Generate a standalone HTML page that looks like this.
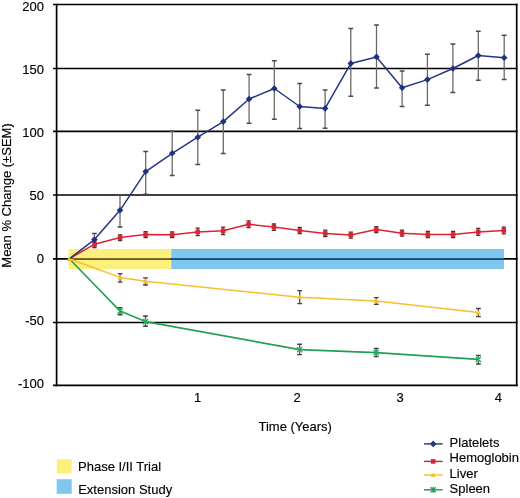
<!DOCTYPE html>
<html><head><meta charset="utf-8"><style>
html,body{margin:0;padding:0;background:#fff;}
svg{display:block;will-change:transform;}
text{font-family:"Liberation Sans",sans-serif;font-size:13px;fill:#000;stroke:#000;stroke-width:0.15px;}
</style></head><body>
<svg width="520" height="498" viewBox="0 0 520 498">
<rect x="68.5" y="249" width="102.3" height="20" fill="#fdef7c"/>
<rect x="171.2" y="249" width="332.8" height="20" fill="#7fc7ee"/>
<line x1="53" y1="4.5" x2="517.6" y2="4.5" stroke="#000" stroke-width="1.6"/>
<line x1="53" y1="68.5" x2="517.6" y2="68.5" stroke="#000" stroke-width="1.6"/>
<line x1="53" y1="131.4" x2="517.6" y2="131.4" stroke="#000" stroke-width="1.6"/>
<line x1="53" y1="195.0" x2="517.6" y2="195.0" stroke="#000" stroke-width="1.6"/>
<line x1="53" y1="258.9" x2="517.6" y2="258.9" stroke="#000" stroke-width="1.6"/>
<line x1="53" y1="322.5" x2="517.6" y2="322.5" stroke="#000" stroke-width="1.6"/>
<line x1="53" y1="385.4" x2="517.6" y2="385.4" stroke="#000" stroke-width="1.6"/>
<line x1="68.5" y1="258.9" x2="170.8" y2="258.9" stroke="#7d6c2a" stroke-width="1.6"/>
<line x1="171.2" y1="258.9" x2="504" y2="258.9" stroke="#1f5a80" stroke-width="1.6"/>
<line x1="56.6" y1="3.7" x2="56.6" y2="386.2" stroke="#000" stroke-width="1.7"/>
<line x1="516.7" y1="3.7" x2="516.7" y2="386.2" stroke="#000" stroke-width="1.7"/>
<polyline points="69.3,258.8 120.1,311.1 145.5,321.6 299.6,349.6 376.2,352.6 478.4,359.4" fill="none" stroke="#22a055" stroke-width="1.6" stroke-linejoin="round"/>
<polyline points="69.3,258.8 120.1,277.4 145.5,281.2 299.7,297.2 376.3,301.1 478.4,312.6" fill="none" stroke="#f2c030" stroke-width="1.5" stroke-linejoin="round"/>
<polyline points="69.3,258.8 94.5,244.2 120.1,237.6 145.6,234.6 172.2,234.8 197.7,231.9 223.1,230.8 248.6,224.3 273.9,227.1 299.7,230.5 325.3,233.4 350.8,235.0 376.3,229.6 402.0,233.2 427.8,234.6 453.1,234.5 478.2,231.9 503.8,230.4" fill="none" stroke="#dc2335" stroke-width="1.5" stroke-linejoin="round"/>
<polyline points="69.3,258.8 94.4,239.6 120.0,210.3 145.7,171.6 172.2,153.3 197.8,137.2 223.3,121.6 249.1,99.0 274.3,88.5 299.7,106.5 325.1,108.4 350.8,63.4 376.5,56.9 402.1,87.7 427.4,79.6 452.9,68.5 478.3,55.5 504.2,57.8" fill="none" stroke="#223680" stroke-width="1.5" stroke-linejoin="round"/>
<path d="M94.4 233.5V245.7" stroke="#6a6a6a" stroke-width="1.3" fill="none"/>
<path d="M92.0 233.5H96.8M92.0 245.7H96.8" stroke="#4a4a4a" stroke-width="1.5" fill="none"/>
<path d="M120.0 195.0V227.0" stroke="#6a6a6a" stroke-width="1.3" fill="none"/>
<path d="M117.6 195.0H122.4M117.6 227.0H122.4" stroke="#4a4a4a" stroke-width="1.5" fill="none"/>
<path d="M145.7 151.5V194.2" stroke="#6a6a6a" stroke-width="1.3" fill="none"/>
<path d="M143.3 151.5H148.1M143.3 194.2H148.1" stroke="#4a4a4a" stroke-width="1.5" fill="none"/>
<path d="M172.2 131.3V175.5" stroke="#6a6a6a" stroke-width="1.3" fill="none"/>
<path d="M169.8 131.3H174.6M169.8 175.5H174.6" stroke="#4a4a4a" stroke-width="1.5" fill="none"/>
<path d="M197.8 110.3V164.6" stroke="#6a6a6a" stroke-width="1.3" fill="none"/>
<path d="M195.4 110.3H200.2M195.4 164.6H200.2" stroke="#4a4a4a" stroke-width="1.5" fill="none"/>
<path d="M223.3 90.0V153.6" stroke="#6a6a6a" stroke-width="1.3" fill="none"/>
<path d="M220.9 90.0H225.7M220.9 153.6H225.7" stroke="#4a4a4a" stroke-width="1.5" fill="none"/>
<path d="M249.1 74.5V123.3" stroke="#6a6a6a" stroke-width="1.3" fill="none"/>
<path d="M246.7 74.5H251.5M246.7 123.3H251.5" stroke="#4a4a4a" stroke-width="1.5" fill="none"/>
<path d="M274.3 60.7V119.3" stroke="#6a6a6a" stroke-width="1.3" fill="none"/>
<path d="M271.9 60.7H276.7M271.9 119.3H276.7" stroke="#4a4a4a" stroke-width="1.5" fill="none"/>
<path d="M299.7 83.6V128.6" stroke="#6a6a6a" stroke-width="1.3" fill="none"/>
<path d="M297.3 83.6H302.1M297.3 128.6H302.1" stroke="#4a4a4a" stroke-width="1.5" fill="none"/>
<path d="M325.1 90.0V128.2" stroke="#6a6a6a" stroke-width="1.3" fill="none"/>
<path d="M322.7 90.0H327.5M322.7 128.2H327.5" stroke="#4a4a4a" stroke-width="1.5" fill="none"/>
<path d="M350.8 28.6V96.3" stroke="#6a6a6a" stroke-width="1.3" fill="none"/>
<path d="M348.4 28.6H353.2M348.4 96.3H353.2" stroke="#4a4a4a" stroke-width="1.5" fill="none"/>
<path d="M376.5 25.0V88.0" stroke="#6a6a6a" stroke-width="1.3" fill="none"/>
<path d="M374.1 25.0H378.9M374.1 88.0H378.9" stroke="#4a4a4a" stroke-width="1.5" fill="none"/>
<path d="M402.1 71.0V106.4" stroke="#6a6a6a" stroke-width="1.3" fill="none"/>
<path d="M399.7 71.0H404.5M399.7 106.4H404.5" stroke="#4a4a4a" stroke-width="1.5" fill="none"/>
<path d="M427.4 54.3V105.3" stroke="#6a6a6a" stroke-width="1.3" fill="none"/>
<path d="M425.0 54.3H429.8M425.0 105.3H429.8" stroke="#4a4a4a" stroke-width="1.5" fill="none"/>
<path d="M452.9 43.9V92.5" stroke="#6a6a6a" stroke-width="1.3" fill="none"/>
<path d="M450.5 43.9H455.3M450.5 92.5H455.3" stroke="#4a4a4a" stroke-width="1.5" fill="none"/>
<path d="M478.3 31.3V80.2" stroke="#6a6a6a" stroke-width="1.3" fill="none"/>
<path d="M475.9 31.3H480.7M475.9 80.2H480.7" stroke="#4a4a4a" stroke-width="1.5" fill="none"/>
<path d="M504.2 35.3V79.6" stroke="#6a6a6a" stroke-width="1.3" fill="none"/>
<path d="M501.8 35.3H506.6M501.8 79.6H506.6" stroke="#4a4a4a" stroke-width="1.5" fill="none"/>
<path d="M94.5 241.0V247.6" stroke="#5a2a2a" stroke-width="1.3" fill="none"/>
<path d="M92.4 241.0H96.6M92.4 247.6H96.6" stroke="#5a2a2a" stroke-width="1.3" fill="none"/>
<path d="M120.1 234.8V240.6" stroke="#5a2a2a" stroke-width="1.3" fill="none"/>
<path d="M118.0 234.8H122.2M118.0 240.6H122.2" stroke="#5a2a2a" stroke-width="1.3" fill="none"/>
<path d="M145.6 231.6V237.7" stroke="#5a2a2a" stroke-width="1.3" fill="none"/>
<path d="M143.5 231.6H147.7M143.5 237.7H147.7" stroke="#5a2a2a" stroke-width="1.3" fill="none"/>
<path d="M172.2 231.9V237.7" stroke="#5a2a2a" stroke-width="1.3" fill="none"/>
<path d="M170.1 231.9H174.3M170.1 237.7H174.3" stroke="#5a2a2a" stroke-width="1.3" fill="none"/>
<path d="M197.7 228.2V235.7" stroke="#5a2a2a" stroke-width="1.3" fill="none"/>
<path d="M195.6 228.2H199.8M195.6 235.7H199.8" stroke="#5a2a2a" stroke-width="1.3" fill="none"/>
<path d="M223.1 227.2V234.5" stroke="#5a2a2a" stroke-width="1.3" fill="none"/>
<path d="M221.0 227.2H225.2M221.0 234.5H225.2" stroke="#5a2a2a" stroke-width="1.3" fill="none"/>
<path d="M248.6 220.9V227.6" stroke="#5a2a2a" stroke-width="1.3" fill="none"/>
<path d="M246.5 220.9H250.7M246.5 227.6H250.7" stroke="#5a2a2a" stroke-width="1.3" fill="none"/>
<path d="M273.9 224.0V230.4" stroke="#5a2a2a" stroke-width="1.3" fill="none"/>
<path d="M271.8 224.0H276.0M271.8 230.4H276.0" stroke="#5a2a2a" stroke-width="1.3" fill="none"/>
<path d="M299.7 227.4V233.7" stroke="#5a2a2a" stroke-width="1.3" fill="none"/>
<path d="M297.6 227.4H301.8M297.6 233.7H301.8" stroke="#5a2a2a" stroke-width="1.3" fill="none"/>
<path d="M325.3 230.2V236.5" stroke="#5a2a2a" stroke-width="1.3" fill="none"/>
<path d="M323.2 230.2H327.4M323.2 236.5H327.4" stroke="#5a2a2a" stroke-width="1.3" fill="none"/>
<path d="M350.8 232.2V238.2" stroke="#5a2a2a" stroke-width="1.3" fill="none"/>
<path d="M348.7 232.2H352.9M348.7 238.2H352.9" stroke="#5a2a2a" stroke-width="1.3" fill="none"/>
<path d="M376.3 226.6V232.7" stroke="#5a2a2a" stroke-width="1.3" fill="none"/>
<path d="M374.2 226.6H378.4M374.2 232.7H378.4" stroke="#5a2a2a" stroke-width="1.3" fill="none"/>
<path d="M402.0 230.1V236.2" stroke="#5a2a2a" stroke-width="1.3" fill="none"/>
<path d="M399.9 230.1H404.1M399.9 236.2H404.1" stroke="#5a2a2a" stroke-width="1.3" fill="none"/>
<path d="M427.8 231.5V237.7" stroke="#5a2a2a" stroke-width="1.3" fill="none"/>
<path d="M425.7 231.5H429.9M425.7 237.7H429.9" stroke="#5a2a2a" stroke-width="1.3" fill="none"/>
<path d="M453.1 231.4V237.5" stroke="#5a2a2a" stroke-width="1.3" fill="none"/>
<path d="M451.0 231.4H455.2M451.0 237.5H455.2" stroke="#5a2a2a" stroke-width="1.3" fill="none"/>
<path d="M478.2 228.4V235.4" stroke="#5a2a2a" stroke-width="1.3" fill="none"/>
<path d="M476.1 228.4H480.3M476.1 235.4H480.3" stroke="#5a2a2a" stroke-width="1.3" fill="none"/>
<path d="M503.8 227.1V233.9" stroke="#5a2a2a" stroke-width="1.3" fill="none"/>
<path d="M501.7 227.1H505.9M501.7 233.9H505.9" stroke="#5a2a2a" stroke-width="1.3" fill="none"/>
<path d="M120.1 273.6V282.1" stroke="#45404a" stroke-width="1.3" fill="none"/>
<path d="M117.7 273.6H122.5M117.7 282.1H122.5" stroke="#45404a" stroke-width="1.4" fill="none"/>
<path d="M145.5 277.9V285.0" stroke="#45404a" stroke-width="1.3" fill="none"/>
<path d="M143.1 277.9H147.9M143.1 285.0H147.9" stroke="#45404a" stroke-width="1.4" fill="none"/>
<path d="M299.7 290.6V303.6" stroke="#45404a" stroke-width="1.3" fill="none"/>
<path d="M297.3 290.6H302.1M297.3 303.6H302.1" stroke="#45404a" stroke-width="1.4" fill="none"/>
<path d="M376.3 297.6V304.4" stroke="#45404a" stroke-width="1.3" fill="none"/>
<path d="M373.9 297.6H378.7M373.9 304.4H378.7" stroke="#45404a" stroke-width="1.4" fill="none"/>
<path d="M478.4 308.5V316.6" stroke="#45404a" stroke-width="1.3" fill="none"/>
<path d="M476.0 308.5H480.8M476.0 316.6H480.8" stroke="#45404a" stroke-width="1.4" fill="none"/>
<path d="M120.1 307.6V314.8" stroke="#45404a" stroke-width="1.3" fill="none"/>
<path d="M117.7 307.6H122.5M117.7 314.8H122.5" stroke="#45404a" stroke-width="1.4" fill="none"/>
<path d="M145.5 316.0V326.2" stroke="#45404a" stroke-width="1.3" fill="none"/>
<path d="M143.1 316.0H147.9M143.1 326.2H147.9" stroke="#45404a" stroke-width="1.4" fill="none"/>
<path d="M299.6 344.3V354.6" stroke="#45404a" stroke-width="1.3" fill="none"/>
<path d="M297.2 344.3H302.0M297.2 354.6H302.0" stroke="#45404a" stroke-width="1.4" fill="none"/>
<path d="M376.2 348.5V356.6" stroke="#45404a" stroke-width="1.3" fill="none"/>
<path d="M373.8 348.5H378.6M373.8 356.6H378.6" stroke="#45404a" stroke-width="1.4" fill="none"/>
<path d="M478.4 355.4V364.0" stroke="#45404a" stroke-width="1.3" fill="none"/>
<path d="M476.0 355.4H480.8M476.0 364.0H480.8" stroke="#45404a" stroke-width="1.4" fill="none"/>
<path d="M117.5 308.5L122.7 313.7M122.7 308.5L117.5 313.7M120.1 308.1V314.1" stroke="#2aae5c" stroke-width="1.3"/>
<path d="M142.9 319.0L148.1 324.2M148.1 319.0L142.9 324.2M145.5 318.6V324.6" stroke="#2aae5c" stroke-width="1.3"/>
<path d="M297.0 347.0L302.2 352.2M302.2 347.0L297.0 352.2M299.6 346.6V352.6" stroke="#2aae5c" stroke-width="1.3"/>
<path d="M373.6 350.0L378.8 355.2M378.8 350.0L373.6 355.2M376.2 349.6V355.6" stroke="#2aae5c" stroke-width="1.3"/>
<path d="M475.8 356.8L481.0 362.0M481.0 356.8L475.8 362.0M478.4 356.4V362.4" stroke="#2aae5c" stroke-width="1.3"/>
<path d="M69.3 256.2L71.9 260.9L66.7 260.9Z" fill="#f2c030"/>
<path d="M120.1 274.8L122.7 279.5L117.5 279.5Z" fill="#f2c030"/>
<path d="M145.5 278.6L148.1 283.3L142.9 283.3Z" fill="#f2c030"/>
<path d="M299.7 294.6L302.3 299.3L297.1 299.3Z" fill="#f2c030"/>
<path d="M376.3 298.5L378.9 303.2L373.7 303.2Z" fill="#f2c030"/>
<path d="M478.4 310.0L481.0 314.7L475.8 314.7Z" fill="#f2c030"/>
<rect x="92.2" y="241.9" width="4.6" height="4.6" fill="#dc2335"/>
<rect x="117.8" y="235.3" width="4.6" height="4.6" fill="#dc2335"/>
<rect x="143.3" y="232.3" width="4.6" height="4.6" fill="#dc2335"/>
<rect x="169.9" y="232.5" width="4.6" height="4.6" fill="#dc2335"/>
<rect x="195.4" y="229.6" width="4.6" height="4.6" fill="#dc2335"/>
<rect x="220.8" y="228.5" width="4.6" height="4.6" fill="#dc2335"/>
<rect x="246.3" y="222.0" width="4.6" height="4.6" fill="#dc2335"/>
<rect x="271.6" y="224.8" width="4.6" height="4.6" fill="#dc2335"/>
<rect x="297.4" y="228.2" width="4.6" height="4.6" fill="#dc2335"/>
<rect x="323.0" y="231.1" width="4.6" height="4.6" fill="#dc2335"/>
<rect x="348.5" y="232.7" width="4.6" height="4.6" fill="#dc2335"/>
<rect x="374.0" y="227.3" width="4.6" height="4.6" fill="#dc2335"/>
<rect x="399.7" y="230.9" width="4.6" height="4.6" fill="#dc2335"/>
<rect x="425.5" y="232.3" width="4.6" height="4.6" fill="#dc2335"/>
<rect x="450.8" y="232.2" width="4.6" height="4.6" fill="#dc2335"/>
<rect x="475.9" y="229.6" width="4.6" height="4.6" fill="#dc2335"/>
<rect x="501.5" y="228.1" width="4.6" height="4.6" fill="#dc2335"/>
<path d="M94.4 236.3L97.7 239.6L94.4 242.9L91.1 239.6Z" fill="#1f3280"/>
<path d="M120.0 207.0L123.3 210.3L120.0 213.6L116.7 210.3Z" fill="#1f3280"/>
<path d="M145.7 168.3L149.0 171.6L145.7 174.9L142.4 171.6Z" fill="#1f3280"/>
<path d="M172.2 150.0L175.5 153.3L172.2 156.6L168.9 153.3Z" fill="#1f3280"/>
<path d="M197.8 133.9L201.1 137.2L197.8 140.5L194.5 137.2Z" fill="#1f3280"/>
<path d="M223.3 118.3L226.6 121.6L223.3 124.9L220.0 121.6Z" fill="#1f3280"/>
<path d="M249.1 95.7L252.4 99.0L249.1 102.3L245.8 99.0Z" fill="#1f3280"/>
<path d="M274.3 85.2L277.6 88.5L274.3 91.8L271.0 88.5Z" fill="#1f3280"/>
<path d="M299.7 103.2L303.0 106.5L299.7 109.8L296.4 106.5Z" fill="#1f3280"/>
<path d="M325.1 105.1L328.4 108.4L325.1 111.7L321.8 108.4Z" fill="#1f3280"/>
<path d="M350.8 60.1L354.1 63.4L350.8 66.7L347.5 63.4Z" fill="#1f3280"/>
<path d="M376.5 53.6L379.8 56.9L376.5 60.2L373.2 56.9Z" fill="#1f3280"/>
<path d="M402.1 84.4L405.4 87.7L402.1 91.0L398.8 87.7Z" fill="#1f3280"/>
<path d="M427.4 76.3L430.7 79.6L427.4 82.9L424.1 79.6Z" fill="#1f3280"/>
<path d="M452.9 65.2L456.2 68.5L452.9 71.8L449.6 68.5Z" fill="#1f3280"/>
<path d="M478.3 52.2L481.6 55.5L478.3 58.8L475.0 55.5Z" fill="#1f3280"/>
<path d="M504.2 54.5L507.5 57.8L504.2 61.1L500.9 57.8Z" fill="#1f3280"/>
<line x1="424" y1="443.9" x2="442.7" y2="443.9" stroke="#2b3270" stroke-width="1.4"/>
<path d="M433.2 440.6L436.5 443.9L433.2 447.2L429.9 443.9Z" fill="#1f3a82"/>
<text x="449.6" y="446.5">Platelets</text>
<line x1="424" y1="461.4" x2="442.7" y2="461.4" stroke="#b8283a" stroke-width="1.4"/>
<rect x="430.9" y="459.1" width="4.6" height="4.6" fill="#dc2335"/>
<text x="449.6" y="462.4">Hemoglobin</text>
<line x1="424" y1="475.0" x2="442.7" y2="475.0" stroke="#e8c82a" stroke-width="1.4"/>
<path d="M433.2 472.4L435.8 477.1L430.6 477.1Z" fill="#f2c030"/>
<text x="449.6" y="478.3">Liver</text>
<line x1="424" y1="489.8" x2="442.7" y2="489.8" stroke="#2f8a55" stroke-width="1.4"/>
<path d="M430.6 487.2L435.8 492.4M435.8 487.2L430.6 492.4M433.2 486.8V492.8" stroke="#22a055" stroke-width="1.3"/>
<text x="449.6" y="493.4">Spleen</text>
<rect x="56.7" y="459.2" width="15" height="14.4" fill="#fdef7c"/>
<rect x="56.7" y="479.2" width="15" height="14.6" fill="#7fc7ee"/>
<text x="78.0" y="470.6">Phase I/II Trial</text>
<text x="78.2" y="494.2">Extension Study</text>
<text x="44" y="11.4" text-anchor="end">200</text>
<text x="44" y="73.9" text-anchor="end">150</text>
<text x="44" y="137.0" text-anchor="end">100</text>
<text x="44" y="200.0" text-anchor="end">50</text>
<text x="44" y="262.8" text-anchor="end">0</text>
<text x="44" y="325.0" text-anchor="end">-50</text>
<text x="44" y="388.2" text-anchor="end">-100</text>
<text x="197.7" y="401.8" text-anchor="middle">1</text>
<text x="297" y="401.8" text-anchor="middle">2</text>
<text x="400.2" y="401.8" text-anchor="middle">3</text>
<text x="498.4" y="401.8" text-anchor="middle">4</text>
<text x="295.2" y="430.8" text-anchor="middle">Time (Years)</text>
<text transform="translate(10.8,195.5) rotate(-90)" text-anchor="middle">Mean % Change (±SEM)</text>
</svg>
</body></html>
